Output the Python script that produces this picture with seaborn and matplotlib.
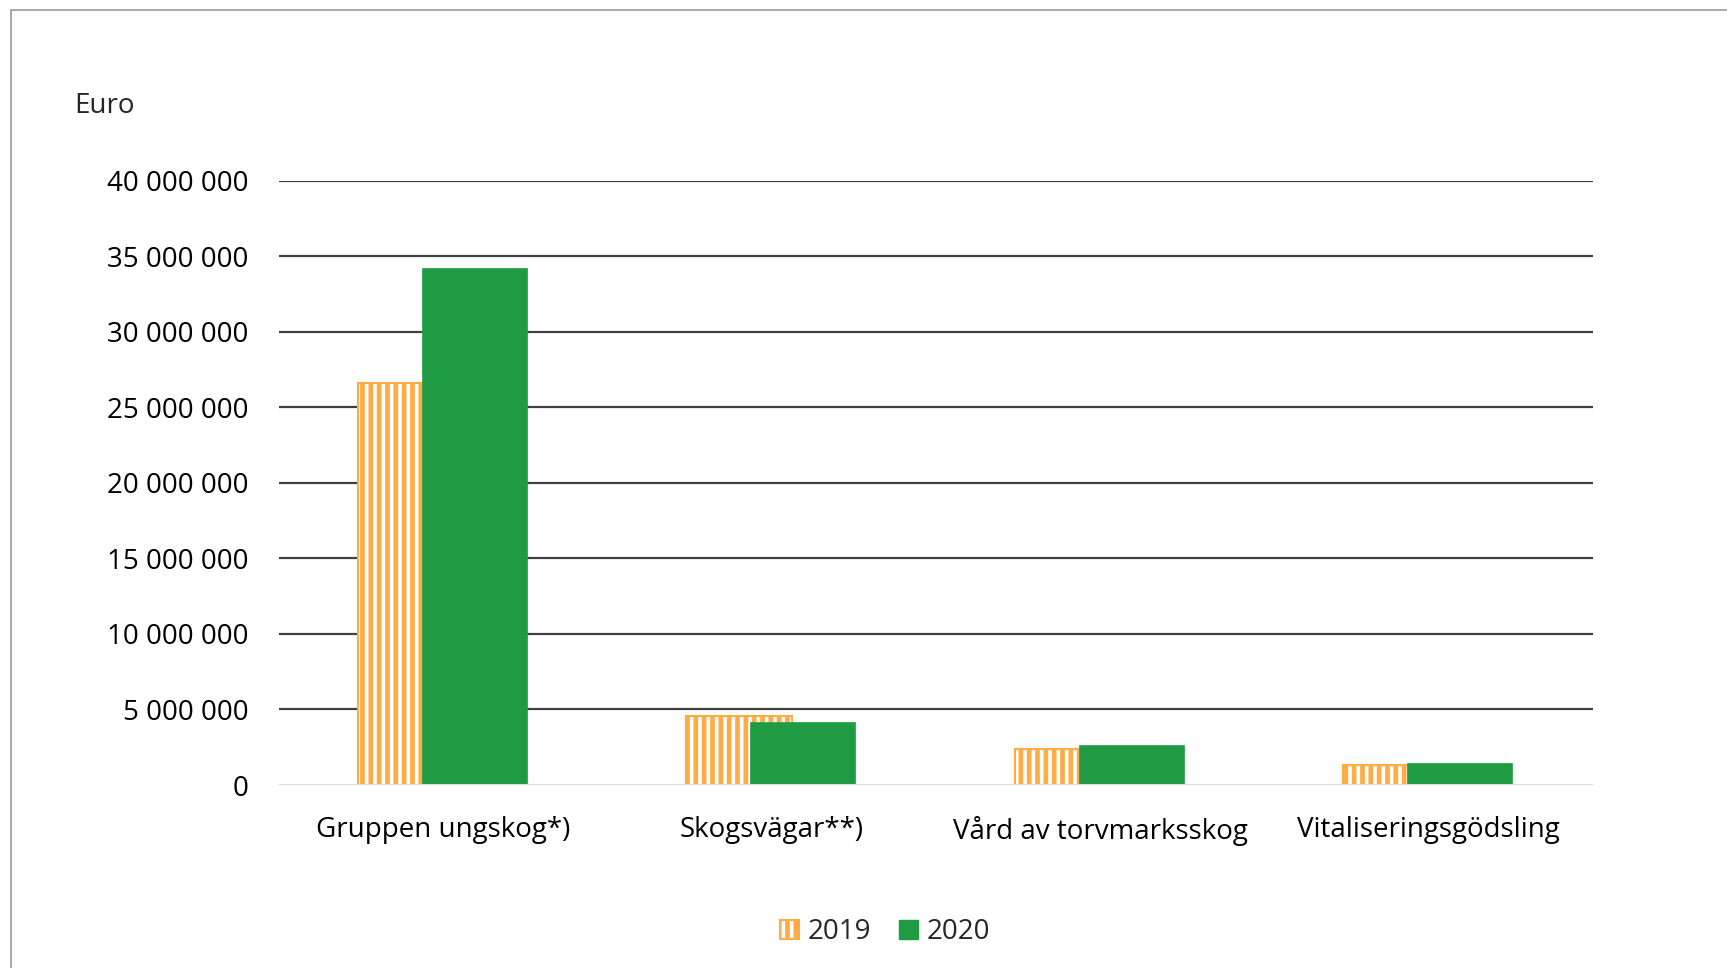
import pandas as pd
import matplotlib
matplotlib.use('Agg')
import matplotlib.pyplot as plt
import seaborn as sns
from matplotlib.patches import Patch, Rectangle
from matplotlib.ticker import FuncFormatter

# Data
kategorier = ['Gruppen ungskog*)', 'Skogsvägar**)', 'Vård av torvmarksskog', 'Vitaliseringsgödsling']
ar = ['2019', '2020']
varden_2019 = [26600000, 4600000, 2400000, 1310000]
varden_2020 = [34250000, 4150000, 2620000, 1460000]

ORANGE = '#ffac46'
GRON = '#1f9c43'

df = pd.DataFrame({
    'kategori': kategorier * 2,
    'år': [ar[0]] * 4 + [ar[1]] * 4,
    'värde': varden_2019 + varden_2020,
})

sns.set_theme(style='white')
plt.rcParams['font.family'] = ['Open Sans', 'DejaVu Sans']
plt.rcParams['hatch.linewidth'] = 3.4
plt.rcParams['hatch.color'] = ORANGE

fig = plt.figure(figsize=(17.27, 9.68), dpi=100)
ax = fig.add_axes([0.1616, 0.189, 0.7608, 0.6244])

sns.barplot(data=df, x='kategori', y='värde', hue='år', palette=[ORANGE, GRON],
            width=0.4, dodge=True, ax=ax, legend=False, saturation=1)

# Bredda staplarna så att de överlappar som i Excel
bar_w = 0.32
for i, p in enumerate(ax.patches):
    cx = p.get_x() + p.get_width() / 2
    p.set_width(bar_w)
    if i < len(kategorier):
        p.set_x(cx - bar_w / 2)
        p.set_facecolor('white')
        p.set_edgecolor(ORANGE)
        p.set_hatch('||')
        if hasattr(p, 'set_hatch_linewidth'):
            p.set_hatch_linewidth(3.4)
        p.set_linewidth(1.5)
        p.set_zorder(2)
    else:
        p.set_x(cx - bar_w / 2 - 0.006)
        p.set_facecolor(GRON)
        p.set_edgecolor(GRON)
        p.set_linewidth(0.5)
        p.set_zorder(3)

ax.set_ylim(0, 40000000)
ax.set_xlim(-0.5, 3.5)
ax.set_yticks(range(0, 40000001, 5000000))
ax.yaxis.set_major_formatter(FuncFormatter(lambda v, _: f'{int(v):,}'.replace(',', ' ')))
ax.set_xlabel('')
ax.set_ylabel('')

for y in range(5000000, 40000001, 5000000):
    ax.axhline(y, color='#404040', linewidth=1.6, zorder=1)
ax.axhline(0, color='#d9d9d9', linewidth=2.2, zorder=4)

for s in ['top', 'right', 'left', 'bottom']:
    ax.spines[s].set_visible(False)
ax.tick_params(axis='y', length=0, pad=22, labelsize=20, colors='black')
ax.tick_params(axis='x', length=0, pad=22, labelsize=20, colors='black')

fig.text(74 / 1727, 1 - 106 / 968, 'Euro', fontsize=20, va='center', ha='left')

handles = [
    Patch(facecolor='white', edgecolor=ORANGE, hatch='||', linewidth=1.5, label='2019'),
    Patch(facecolor=GRON, edgecolor=GRON, label='2020'),
]
fig.legend(handles=handles, loc='center', bbox_to_anchor=(885 / 1727, 1 - 932 / 968), ncol=2,
           frameon=False, fontsize=20, handlelength=0.7, handleheight=0.7,
           handletextpad=0.3, columnspacing=1.0)

# Ram runt diagrammet (höger och nederkant utanför bilden)
fig.patches.append(Rectangle((11 / 1727, -0.1), 1.2, 1.1 - 10 / 968, transform=fig.transFigure,
                             fill=False, edgecolor='#9a9a9a', linewidth=1.2))

fig.savefig('out.png', dpi=100)
